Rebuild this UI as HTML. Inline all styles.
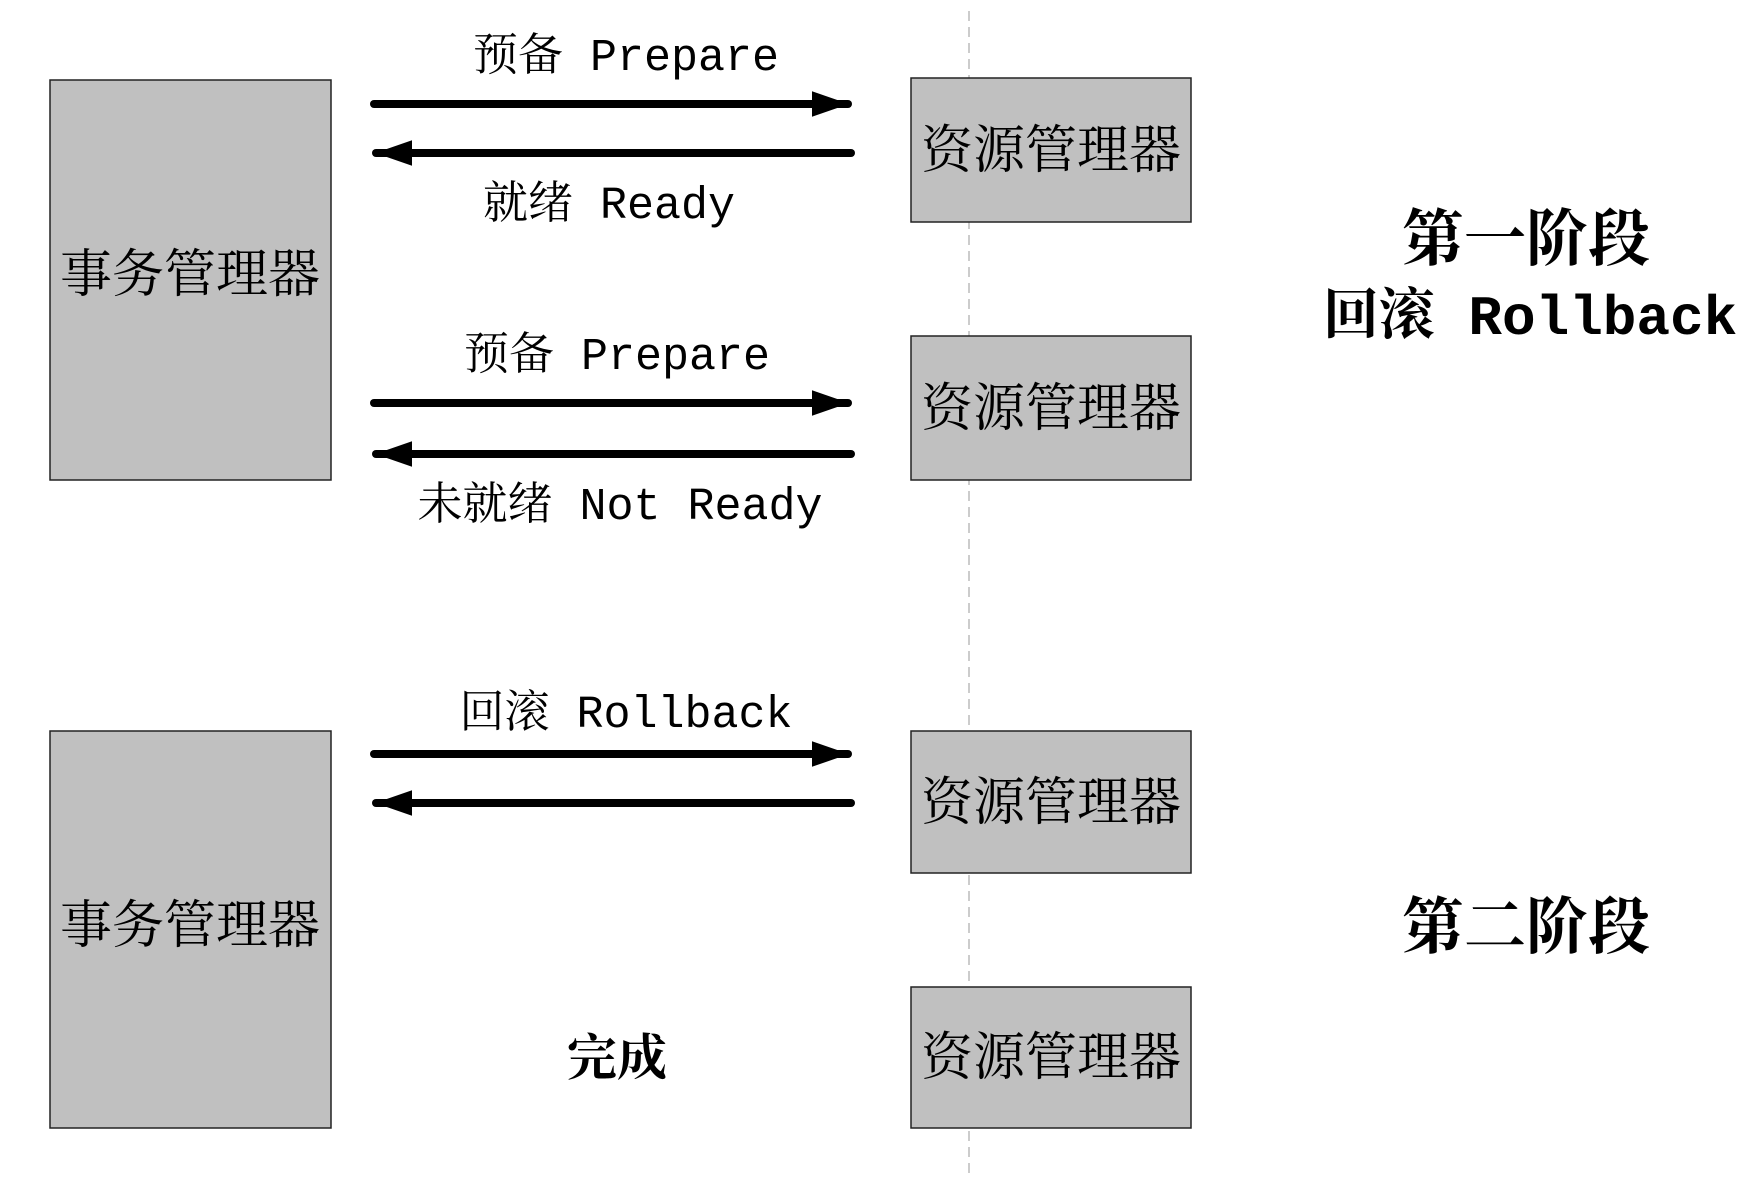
<!DOCTYPE html>
<html><head><meta charset="utf-8"><style>
html,body{margin:0;padding:0;background:#fff;}
svg{display:block}
.t{font-family:"Liberation Mono","Noto Serif CJK SC",monospace;font-size:45px;fill:#000;}
.b{font-family:"Liberation Serif","Noto Serif CJK SC",serif;font-size:52px;fill:#000;}
.h{font-family:"Liberation Mono","Noto Serif CJK SC",monospace;font-size:62px;font-weight:bold;fill:#000;}
</style></head><body>
<svg width="1752" height="1184" viewBox="0 0 1752 1184" xmlns="http://www.w3.org/2000/svg">
<defs>
<marker id="ar" markerWidth="8" markerHeight="8" refX="4.5" refY="4" orient="auto" markerUnits="strokeWidth">
<path d="M0,2.4 L4.6,4 L0,5.6 z" fill="#000"/>
</marker>
</defs>
<line x1="969" y1="11" x2="969" y2="1173" stroke="#bbb" stroke-width="1.5" stroke-dasharray="10,6"/>
<g fill="#c0c0c0" stroke="#222" stroke-width="1.5">
<rect x="50" y="80" width="281" height="400"/>
<rect x="50" y="731" width="281" height="397"/>
<rect x="911" y="78" width="280" height="144"/>
<rect x="911" y="336" width="280" height="144"/>
<rect x="911" y="731" width="280" height="142"/>
<rect x="911" y="987" width="280" height="141"/>
</g>
<g stroke="#000" stroke-width="8" stroke-linecap="round" marker-end="url(#ar)">
<line x1="374" y1="104" x2="848" y2="104"/>
<line x1="851" y1="153" x2="376" y2="153"/>
<line x1="374" y1="403" x2="848" y2="403"/>
<line x1="851" y1="454" x2="376" y2="454"/>
<line x1="374" y1="754" x2="848" y2="754"/>
<line x1="851" y1="803" x2="376" y2="803"/>
</g>
<g class="b" text-anchor="middle">
<text x="190" y="292">事务管理器</text>
<text x="190" y="943">事务管理器</text>
<text x="1051" y="168">资源管理器</text>
<text x="1051" y="426">资源管理器</text>
<text x="1051" y="820">资源管理器</text>
<text x="1051" y="1075">资源管理器</text>
</g>
<g class="t" text-anchor="middle">
<text x="626" y="70">预备 Prepare</text>
<text x="609" y="218">就绪 Ready</text>
<text x="617" y="369">预备 Prepare</text>
<text x="620" y="519">未就绪 Not Ready</text>
<text x="626" y="727">回滚 Rollback</text>
</g>
<g class="h" text-anchor="middle">
<text x="617" y="1075" font-size="50">完成</text>
<text x="1526" y="260">第一阶段</text>
<text x="1530" y="334" font-size="56">回滚 Rollback</text>
<text x="1526" y="948">第二阶段</text>
</g>
</svg>
</body></html>
